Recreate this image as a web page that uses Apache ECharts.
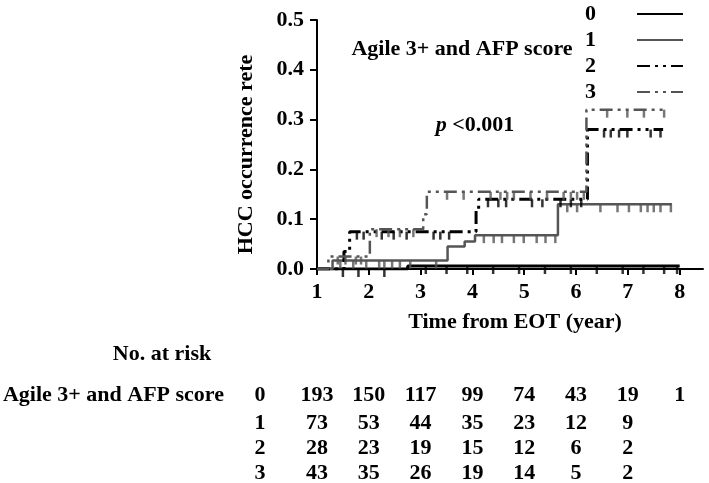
<!DOCTYPE html>
<html>
<head>
<meta charset="utf-8">
<script src="https://cdn.jsdelivr.net/npm/echarts@6/dist/echarts.min.js"></script>
<style>
  html, body { margin: 0; background: #fff; }
  #main { width: 709px; height: 483px; }
</style>
</head>
<body>
<div id="main"></div>
<script>
// x 轴刻度与风险人数表
const years = [1, 2, 3, 4, 5, 6, 7, 8];
const groups = ['0', '1', '2', '3'];
const atRisk0 = [193, 150, 117, 99, 74, 43, 19, 1];
const atRisk1 = [73, 53, 44, 35, 23, 12, 9, null];
const atRisk2 = [28, 23, 19, 15, 12, 6, 2, null];
const atRisk3 = [43, 35, 26, 19, 14, 5, 2, null];

// 累积发生率阶梯曲线 [年, 发生率]
const curve0 = [[1, 0], [2.75, 0.006], [8.0, 0.006]];
const curve1 = [[1, 0], [1.3, 0.017], [3.52, 0.045], [3.85, 0.055], [4.05, 0.068], [5.65, 0.13], [7.85, 0.13]];
const curve2 = [[1, 0], [1.52, 0.035], [1.63, 0.075], [4.07, 0.12], [4.12, 0.14], [6.22, 0.28], [7.68, 0.28]];
const curve3 = [[1, 0], [1.22, 0.025], [2.02, 0.08], [3.05, 0.11], [3.12, 0.155], [6.2, 0.32], [7.75, 0.32]];

// 删失标记
const cens0 = [[1.5, 0], [1.8, 0], [2.3, 0], [3.1, 0.006], [3.5, 0.006], [3.9, 0.006], [4.4, 0.006], [4.9, 0.006],
  [5.4, 0.006], [5.9, 0.006], [6.4, 0.006], [6.9, 0.006], [7.3, 0.006], [7.7, 0.006], [7.95, 0.006]];
const cens1 = [[1.45, 0.017], [1.7, 0.017], [1.95, 0.017], [2.2, 0.017], [2.3, 0.017], [2.45, 0.017], [2.6, 0.017],
  [2.8, 0.017], [3.3, 0.017], [4.22, 0.068], [4.41, 0.068], [4.57, 0.068], [4.8, 0.068], [4.99, 0.068],
  [5.24, 0.068], [5.41, 0.068], [5.6, 0.068], [5.83, 0.13], [6.02, 0.13], [6.47, 0.13], [6.8, 0.13],
  [7.02, 0.13], [7.25, 0.13], [7.38, 0.13], [7.5, 0.13], [7.63, 0.13], [7.83, 0.13]];
const cens2 = [[1.77, 0.075], [1.9, 0.075], [2.25, 0.075], [2.48, 0.075], [2.73, 0.075], [3.25, 0.075],
  [3.38, 0.075], [3.55, 0.075], [4.3, 0.14], [4.5, 0.14], [4.65, 0.14], [5.15, 0.14], [5.35, 0.14],
  [5.7, 0.14], [5.9, 0.14], [6.1, 0.14], [6.54, 0.28], [6.67, 0.28], [6.83, 0.28], [6.99, 0.28],
  [7.44, 0.28], [7.63, 0.28]];
const cens3 = [[1.4, 0.025], [1.55, 0.025], [1.75, 0.025], [1.85, 0.025], [2.15, 0.08], [2.38, 0.08],
  [2.6, 0.08], [2.86, 0.08], [3.51, 0.155], [3.83, 0.155], [4.35, 0.155], [4.54, 0.155], [4.67, 0.155],
  [4.8, 0.155], [5.12, 0.155], [5.44, 0.155], [5.76, 0.155], [5.9, 0.155], [6.02, 0.155], [6.15, 0.155],
  [6.6, 0.32], [6.99, 0.32], [7.31, 0.32], [7.7, 0.32]];

const FONT = '"Liberation Serif", "DejaVu Serif", serif';
const GRAY = '#555555';
const dashDot = [13, 5, 3, 5, 3, 5];
const FS = 22;

const chart = echarts.init(document.getElementById('main'));

function curveSeries(name, data, color, width, type) {
  return {
    name, type: 'line', step: 'end', data, symbol: 'none',
    lineStyle: { color, width, type }, itemStyle: { color },
    z: 3, animation: false
  };
}
function censorSeries(data, color) {
  return {
    type: 'scatter', data, symbol: 'rect', symbolSize: [2.5, 8], symbolOffset: [0, 4],
    itemStyle: { color }, z: 4, animation: false, silent: true
  };
}

const option = {
  animation: false,
  grid: { left: 317, right: 6, top: 20, bottom: 214 },
  legend: {
    data: groups, orient: 'vertical', align: 'right', right: 20, top: -2,
    itemWidth: 46, itemHeight: 14, itemGap: 4,
    itemStyle: { opacity: 0 },
    textStyle: { fontFamily: FONT, fontWeight: 'bold', fontSize: FS, color: '#000', padding: [0, 36, 0, 0] }
  },
  xAxis: {
    type: 'value', min: 1, max: 8.45, interval: 1,
    name: 'Time from EOT (year)', nameLocation: 'middle', nameGap: 42,
    nameTextStyle: { fontFamily: FONT, fontWeight: 'bold', fontSize: FS, color: '#000', padding: [0, 0, 0, 10] },
    axisLine: { lineStyle: { color: '#000', width: 2 } },
    axisTick: { length: 6, lineStyle: { color: '#000', width: 2 }, customValues: years },
    axisLabel: { customValues: years, margin: 12, fontFamily: FONT, fontWeight: 'bold', fontSize: FS, color: '#000' },
    splitLine: { show: false }
  },
  yAxis: {
    type: 'value', min: 0, max: 0.5, interval: 0.1,
    name: 'HCC occurrence rete', nameLocation: 'middle', nameGap: 60, nameRotate: 90,
    nameTextStyle: { fontFamily: FONT, fontWeight: 'bold', fontSize: FS, color: '#000', padding: [0, 20, 0, 0] },
    axisLine: { show: true, lineStyle: { color: '#000', width: 2 } },
    axisTick: { show: true, length: 7, lineStyle: { color: '#000', width: 2 } },
    axisLabel: { formatter: v => v.toFixed(1), margin: 13, fontFamily: FONT, fontWeight: 'bold', fontSize: FS, color: '#000' },
    splitLine: { show: false }
  },
  series: [
    curveSeries('0', curve0, '#000', 3, 'solid'),
    curveSeries('1', curve1, GRAY, 2.5, 'solid'),
    curveSeries('2', curve2, '#000', 3, dashDot),
    curveSeries('3', curve3, GRAY, 2.5, dashDot),
    censorSeries(cens0, '#000'),
    censorSeries(cens1, GRAY),
    censorSeries(cens2, '#000'),
    censorSeries(cens3, GRAY)
  ]
};
chart.setOption(option);

// 图中文字与风险人数表
const txt = { fontFamily: FONT, fontWeight: 'bold', fontSize: FS, fill: '#000' };
const graphics = [
  { type: 'text', x: 462, y: 49, style: Object.assign({ text: 'Agile 3+ and AFP score', align: 'center', verticalAlign: 'middle' }, txt) },
  { type: 'text', x: 475, y: 125, style: Object.assign({
      text: '{i|p} <0.001', align: 'center', verticalAlign: 'middle',
      rich: { i: { fontFamily: FONT, fontWeight: 'bold', fontStyle: 'italic', fontSize: FS } } }, txt) },
  { type: 'text', x: 162, y: 354, style: Object.assign({ text: 'No. at risk', align: 'center', verticalAlign: 'middle' }, txt) },
  { type: 'text', x: 224, y: 395, style: Object.assign({ text: 'Agile 3+ and AFP score', align: 'right', verticalAlign: 'middle' }, txt) }
];
const rowY = [395, 423, 448, 473];
const rows = [atRisk0, atRisk1, atRisk2, atRisk3];
rows.forEach((row, r) => {
  graphics.push({ type: 'text', x: 260, y: rowY[r], style: Object.assign({ text: groups[r], align: 'center', verticalAlign: 'middle' }, txt) });
  row.forEach((n, i) => {
    if (n === null) return;
    const px = chart.convertToPixel({ xAxisIndex: 0 }, years[i]);
    graphics.push({ type: 'text', x: px, y: rowY[r], style: Object.assign({ text: String(n), align: 'center', verticalAlign: 'middle' }, txt) });
  });
});
chart.setOption({ graphic: graphics });
</script>
</body>
</html>
